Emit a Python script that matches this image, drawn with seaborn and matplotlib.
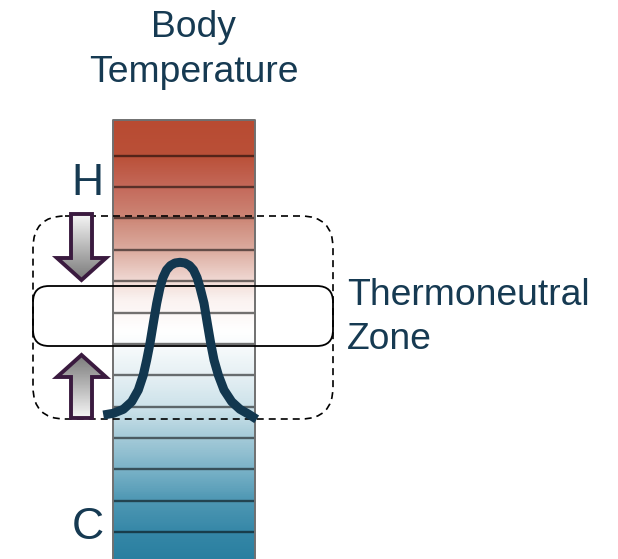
import numpy as np
import pandas as pd
import matplotlib
matplotlib.use("Agg")
import matplotlib.pyplot as plt
import seaborn as sns
from matplotlib.colors import LinearSegmentedColormap
from matplotlib.patches import FancyBboxPatch, Polygon

# curve (pixel space of the 618x559 canvas)
curve_x = [103.3, 113.3, 123.3, 131.7, 138.3, 143.3, 146.7, 150.0, 153.3, 156.7,
           160.0, 163.0, 166.5, 170.5, 175.0, 180.0, 185.0, 189.5, 193.5, 197.0,
           200.0, 204.0, 207.3, 210.7, 214.0, 218.3, 224.0, 231.7, 240.0, 248.3, 256.7]
curve_y = [415.0, 413.3, 409.3, 401.7, 390.0, 375.0, 360.0, 343.3, 323.3, 303.3,
           287.5, 277.5, 270.0, 265.5, 263.0, 262.3, 263.0, 265.5, 270.0, 277.5,
           287.5, 303.3, 323.3, 343.3, 360.0, 375.0, 390.0, 401.7, 409.3, 414.0, 419.3]

title_lines = ["Body", "Temperature"]
zone_lines = ["Thermoneutral", "Zone"]
hot_label = "H"
cold_label = "C"

# colours sampled down the scale bar (hot at top, cold at bottom)
scale_stops = [0.0, 0.08, 0.15, 0.225, 0.3, 0.37, 0.41, 0.48, 0.51, 0.58,
               0.655, 0.725, 0.795, 0.865, 0.94, 1.0]
scale_colors = ["#B84B32", "#BA5038", "#C4695A", "#CD8878", "#DDAFA3", "#F2DDD8",
                "#FBF3F1", "#FFFFFF", "#F8FBFC", "#E6F0F4", "#CCE2EA", "#A4CAD8",
                "#7BB3C8", "#4F98B4", "#3587A7", "#2A7FA0"]
text_color = "#163A52"
curve_color = "#12374F"
arrow_edge = "#3A1A3F"

sns.set_theme(style="white")
plt.rcParams["font.family"] = ["Liberation Sans", "DejaVu Sans"]

fig = plt.figure(figsize=(6.18, 5.59), dpi=100)
ax = fig.add_axes([0, 0, 1, 1])

# temperature scale bar
bar_l, bar_r, bar_t, bar_b = 113, 255, 120, 560
cmap = LinearSegmentedColormap.from_list("temp", list(zip(scale_stops, scale_colors)))
grad = np.linspace(0, 1, 500).reshape(-1, 1)
ax.imshow(grad, cmap=cmap, aspect="auto", extent=[bar_l, bar_r, bar_b, bar_t],
          interpolation="bilinear", zorder=1)
band_lines = 155.7 + 31.36 * np.arange(13)
for yl in band_lines:
    c = np.array(cmap((yl - bar_t) / (bar_b - bar_t))[:3]) * 0.45
    ax.hlines(yl, bar_l, bar_r, color=c, lw=1.7, zorder=2)
ax.plot([bar_l, bar_l, bar_r, bar_r], [bar_b, bar_t, bar_t, bar_b],
        color="#707070", lw=1.4, zorder=2)

# boxes
dash_box = FancyBboxPatch((33, 216), 300, 203,
                          boxstyle="round,pad=0,rounding_size=32",
                          fill=False, ec="black", lw=1.2, ls=(0, (4.2, 3)), zorder=3)
ax.add_patch(dash_box)
solid_box = FancyBboxPatch((33, 286), 300, 60,
                           boxstyle="round,pad=0,rounding_size=16",
                           fill=False, ec="black", lw=1.3, zorder=3)
ax.add_patch(solid_box)


def arrow(ax, base, tip):
    d = 1 if tip > base else -1
    head = tip - d * 22
    pts = [(71, base), (92, base), (92, head), (106, head), (81.5, tip),
           (57, head), (71, head)]
    poly = Polygon(pts, closed=True, fc="none", ec=arrow_edge, lw=2.8,
                   joinstyle="miter", zorder=5)
    ymin, ymax = min(base, tip), max(base, tip)
    g = np.linspace(0, 1, 100).reshape(-1, 1)
    if d < 0:
        g = g[::-1]
    img = ax.imshow(g, cmap=LinearSegmentedColormap.from_list("g", ["#F6F6F6", "#7A7A7A"]),
                    aspect="auto", extent=[55, 108, ymax, ymin], zorder=4)
    img.set_clip_path(Polygon(pts, closed=True, transform=ax.transData))
    ax.add_patch(poly)


arrow(ax, 214, 280)
arrow(ax, 418, 355)

# curve
df = pd.DataFrame({"x": curve_x, "y": curve_y})
sns.lineplot(data=df, x="x", y="y", sort=False, estimator=None, ax=ax,
             color=curve_color, lw=6.5, zorder=6)
ax.lines[-1].set_solid_capstyle("butt")
ax.lines[-1].set_solid_joinstyle("round")
ax.set_xlim(0, 618)
ax.set_ylim(559, 0)
ax.axis("off")

# labels
ax.text(193, 37, title_lines[0], fontsize=26.8, color=text_color, ha="center", va="baseline")
ax.text(194, 82, title_lines[1], fontsize=26.8, color=text_color, ha="center", va="baseline")
ax.text(347, 305, zone_lines[0], fontsize=26.8, color=text_color, ha="left", va="baseline")
ax.text(347, 349, zone_lines[1], fontsize=26.8, color=text_color, ha="left", va="baseline")
ax.text(87, 195, hot_label, fontsize=32, color=text_color, ha="center", va="baseline")
ax.text(88, 539, cold_label, fontsize=32, color=text_color, ha="center", va="baseline")

fig.savefig("out.png", dpi=100)
